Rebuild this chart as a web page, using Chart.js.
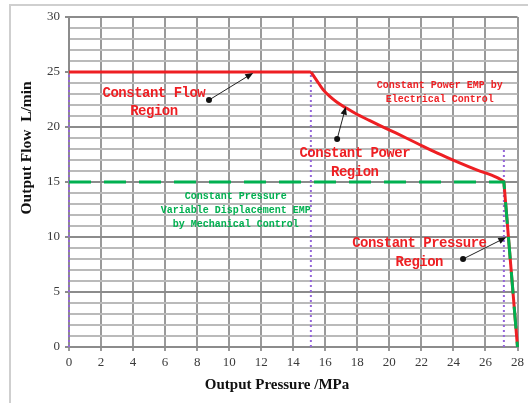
<!DOCTYPE html>
<html>
<head>
<meta charset="utf-8">
<script src="https://cdn.jsdelivr.net/npm/chart.js@4.4.1/dist/chart.umd.min.js"></script>
<style>
  html, body { margin: 0; padding: 0; background: #fff; }
  #wrap { position: relative; width: 528px; height: 403px; }
</style>
</head>
<body>
<div id="wrap"><canvas id="c" width="528" height="403"></canvas></div>
<script>
// Pump characteristic: output pressure (MPa) against output flow (L/min)

// constant flow section
const flowPressure = [0, 15.1];
const flowRate = [25, 25];
// constant power section (electrically controlled EMP)
const powerPressure = [15.1, 15.45, 15.86, 16.28, 16.69, 17.31, 17.92, 18.75, 19.58, 20.4, 21.75, 23, 24.2, 25.45, 26.7, 27.15];
const powerRate = [25, 24.27, 23.4, 22.78, 22.3, 21.72, 21.2, 20.6, 20.02, 19.46, 18.5, 17.62, 16.85, 16.1, 15.42, 15.05];
// constant pressure cut-off
const cutoffPressure = [27.15, 28];
const cutoffRate = [15, 0];
// constant pressure variable displacement EMP (mechanical control)
const mechPressure = [0, 27.15, 28];
const mechRate = [15, 15, 0];
// vertical guides at the region boundaries
const guidePressure = [0, 15.1, 27.15];
const guideTop = [25, 25, 18];

const xTickLabels = [0, 2, 4, 6, 8, 10, 12, 14, 16, 18, 20, 22, 24, 26, 28];
const yTickLabels = [0, 5, 10, 15, 20, 25, 30];

const RED = '#ee1f23';
const GREEN = '#00b050';
const PURPLE = '#9466d8';

const pts = (xs, ys) => xs.map((x, i) => ({ x, y: ys[i] }));

// region labels and pointer arrows, placed in data units
const notes = [
  { lines: ['Constant Flow', 'Region'], at: [5.3, 23.06], gap: 18.5, size: 14, spacing: -0.5, color: RED },
  { lines: ['Constant Power', 'Region'], at: [17.84, 17.55], gap: 18.7, size: 14, spacing: -0.5, color: RED },
  { lines: ['Constant Power EMP by', 'Electrical Control'], at: [23.14, 23.73], gap: 14, size: 10, spacing: 0, color: RED },
  { lines: ['Constant Pressure', 'Variable Displacement EMP', 'by Mechanical Control'], at: [10.41, 13.66], gap: 13.7, size: 10, spacing: 0, color: GREEN },
  { lines: ['Constant Pressure', 'Region'], at: [21.87, 9.43], gap: 19.4, size: 14, spacing: -0.5, color: RED }
];
const arrows = [
  { from: [8.74, 22.45], to: [11.5, 24.92] },
  { from: [16.74, 18.9], to: [17.28, 21.85] },
  { from: [24.6, 8.0], to: [27.3, 9.97] }
];

const guides = guidePressure.map((p, i) => ({
  data: [{ x: p, y: 0 }, { x: p, y: guideTop[i] }],
  borderColor: PURPLE, borderWidth: 2, borderDash: [2, 3],
  pointRadius: 0, showLine: true, fill: false, order: 3, clip: 6
}));

const annotate = {
  id: 'annotate',
  beforeDraw(chart) {
    const ctx = chart.ctx;
    ctx.save();
    ctx.strokeStyle = '#cfcfcf';
    ctx.lineWidth = 2;
    ctx.beginPath();
    ctx.moveTo(10, chart.height + 5);
    ctx.lineTo(10, 5);
    ctx.lineTo(chart.width + 5, 5);
    ctx.stroke();
    ctx.restore();
  },
  afterDatasetsDraw(chart) {
    const { ctx, scales: { x, y }, chartArea } = chart;
    ctx.save();
    // pointer arrows
    arrows.forEach(a => {
      const x0 = x.getPixelForValue(a.from[0]), y0 = y.getPixelForValue(a.from[1]);
      const x1 = x.getPixelForValue(a.to[0]), y1 = y.getPixelForValue(a.to[1]);
      const ang = Math.atan2(y1 - y0, x1 - x0);
      ctx.strokeStyle = '#222';
      ctx.fillStyle = '#111';
      ctx.lineWidth = 1;
      ctx.beginPath();
      ctx.moveTo(x0, y0);
      ctx.lineTo(x1 - 5 * Math.cos(ang), y1 - 5 * Math.sin(ang));
      ctx.stroke();
      ctx.beginPath();
      ctx.arc(x0, y0, 3, 0, Math.PI * 2);
      ctx.fill();
      ctx.beginPath();
      ctx.moveTo(x1, y1);
      ctx.lineTo(x1 - 8 * Math.cos(ang) + 3.2 * Math.sin(ang), y1 - 8 * Math.sin(ang) - 3.2 * Math.cos(ang));
      ctx.lineTo(x1 - 8 * Math.cos(ang) - 3.2 * Math.sin(ang), y1 - 8 * Math.sin(ang) + 3.2 * Math.cos(ang));
      ctx.closePath();
      ctx.fill();
    });
    // region labels
    ctx.textAlign = 'center';
    ctx.textBaseline = 'middle';
    notes.forEach(n => {
      ctx.fillStyle = n.color;
      ctx.font = 'bold ' + n.size + 'px "Liberation Mono", monospace';
      ctx.letterSpacing = n.spacing + 'px';
      const cx = x.getPixelForValue(n.at[0]);
      const cy = y.getPixelForValue(n.at[1]);
      n.lines.forEach((t, i) => ctx.fillText(t, cx, cy + i * n.gap));
    });
    ctx.letterSpacing = '0px';
    // axis titles
    ctx.fillStyle = '#111';
    ctx.font = 'bold 15px "Liberation Serif", serif';
    ctx.fillText('Output Pressure /MPa', chartArea.left + 208, chartArea.bottom + 38);
    ctx.save();
    ctx.translate(chartArea.left - 42, y.getPixelForValue(18.1));
    ctx.rotate(-Math.PI / 2);
    ctx.font = 'bold 15.5px "Liberation Serif", serif';
    ctx.fillText('Output Flow  L/min', 0, 0);
    ctx.restore();
    ctx.restore();
  }
};

new Chart(document.getElementById('c'), {
  type: 'scatter',
  data: {
    datasets: [
      { data: pts(mechPressure, mechRate), borderColor: GREEN, borderWidth: 3, borderDash: [22, 13],
        showLine: true, pointRadius: 0, fill: false, order: 0, clip: 6 },
      { data: pts(flowPressure, flowRate), borderColor: RED, borderWidth: 3,
        showLine: true, pointRadius: 0, fill: false, order: 1, clip: 6 },
      { data: pts(powerPressure, powerRate), borderColor: RED, borderWidth: 3, cubicInterpolationMode: 'monotone',
        showLine: true, pointRadius: 0, fill: false, order: 1, clip: 6 },
      { data: pts(cutoffPressure, cutoffRate), borderColor: RED, borderWidth: 3,
        showLine: true, pointRadius: 0, fill: false, order: 1, clip: 6 },
      ...guides
    ]
  },
  options: {
    responsive: false,
    animation: false,
    events: [],
    layout: { padding: { left: 0, top: 17, right: 7, bottom: 0 } },
    plugins: { legend: { display: false }, tooltip: { enabled: false } },
    scales: {
      x: {
        type: 'linear', min: 0, max: 28,
        afterFit: s => { s.height = 56; },
        afterBuildTicks: s => { s.ticks = xTickLabels.map(v => ({ value: v })); },
        ticks: { autoSkip: false, maxRotation: 0, padding: 4, color: '#3a3a3a',
                 font: { family: '"Liberation Serif", serif', size: 13 } },
        grid: { color: '#9a9a9a', lineWidth: 2, tickLength: 4, tickColor: '#9a9a9a' },
        border: { color: '#8c8c8c', width: 2 }
      },
      y: {
        type: 'linear', min: 0, max: 30,
        afterFit: s => { s.width = 69; },
        afterBuildTicks: s => {
          const t = [];
          for (let v = 0; v <= 30; v++) t.push({ value: v });
          s.ticks = t;
        },
        ticks: { autoSkip: false, padding: 5, color: '#3a3a3a',
                 font: { family: '"Liberation Serif", serif', size: 13 },
                 callback: v => yTickLabels.includes(v) ? String(v) : '' },
        grid: {
          color: c => (yTickLabels.includes(c.tick.value) ? '#8c8c8c' : '#bababa'),
          lineWidth: 2, tickLength: 4,
          tickColor: c => (yTickLabels.includes(c.tick.value) ? '#8c8c8c' : 'rgba(0,0,0,0)')
        },
        border: { color: '#8c8c8c', width: 2 }
      }
    }
  },
  plugins: [annotate]
});
</script>
</body>
</html>
